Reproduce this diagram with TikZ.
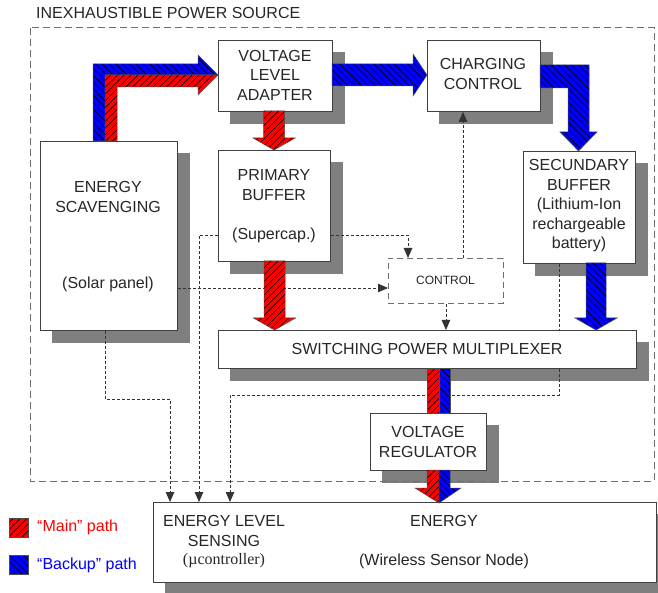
\documentclass[tikz,border=0pt]{standalone}
\usepackage{fontspec}
\setmainfont{Liberation Sans}
\newfontfamily\serifface{Liberation Serif}
\usetikzlibrary{calc,arrows.meta,patterns.meta}
\pgfdeclarelayer{shadow}\pgfdeclarelayer{lines}\pgfdeclarelayer{front}
\pgfsetlayers{shadow,lines,main,front}
\definecolor{shadowc}{HTML}{7F7F7F}
\definecolor{boxline}{HTML}{404040}
\definecolor{dashc}{HTML}{6E6E6E}
\definecolor{txtc}{HTML}{262626}
\tikzset{
  box/.style={draw=boxline, fill=white, line width=0.9pt, inner sep=0pt, anchor=north west},
  txt/.style={font=\fontsize{16}{19.5}\selectfont, align=center, inner sep=0pt, text=txtc},
  sig/.style={draw=black!80, line width=0.8pt, dash pattern=on 3pt off 2pt, -{Triangle[length=10pt,width=8.5pt]}},
  mainarrow/.style={preaction={fill=red}, pattern={Lines[angle=45,distance=4.8pt,line width=0.6pt]}, pattern color=black, draw=black!70, line width=0.5pt},
  backarrow/.style={preaction={fill=blue}, pattern={Lines[angle=-45,distance=4.8pt,line width=0.6pt]}, pattern color=black, draw=black!70, line width=0.5pt},
}
\newcommand\shbox[5]{%
  \node[box, minimum width={(#4-#2)*1pt}, minimum height={(#5-#3)*1pt}] (#1) at (#2,#3) {};
  \begin{pgfonlayer}{shadow}
    \fill[shadowc] ($(#1.north west)+(12,12)$) rectangle ($(#1.south east)+(12,12)$);
  \end{pgfonlayer}}
\newcommand\fatdown[7]{%
  \path[#1] (#2-#5,#3) -- (#2-#5,#4-#7) -- (#2-#6,#4-#7) -- (#2,#4) -- (#2+#6,#4-#7) -- (#2+#5,#4-#7) -- (#2+#5,#3) -- cycle;}
\begin{document}
\begin{tikzpicture}[x=1pt,y=-1pt]
\useasboundingbox (0,0) rectangle (658,593);

% title and outer dashed frame
\node[txt, anchor=west] (title) at (36,13) {INEXHAUSTIBLE POWER SOURCE};
\begin{pgfonlayer}{lines}
  \draw[dashc, line width=1pt, dash pattern=on 7pt off 4pt] (30,28) rectangle (654,481);
\end{pgfonlayer}

% boxes
\shbox{vla}{218}{40}{332}{111}
\shbox{cc}{427}{40}{540}{111}
\shbox{es}{40}{141}{177}{330}
\shbox{pb}{218}{150}{330}{261}
\shbox{sb}{523}{151}{635}{263}
\shbox{spm}{218}{330}{636}{368}
\shbox{vr}{370}{413}{486}{470}
\shbox{en}{153}{502}{656}{582}
\node[draw=dashc, line width=0.9pt, dash pattern=on 6pt off 4pt, fill=white, inner sep=0pt, anchor=north west,
      minimum width=115pt, minimum height=45pt] (ctl) at (388,258) {};

% texts
\node[txt] (tvla) at (275,75) {VOLTAGE\\LEVEL\\ADAPTER};
\node[txt] (tcc) at (483,74) {CHARGING\\CONTROL};
\node[txt] (tes) at (108,197) {ENERGY\\SCAVENGING};
\node[txt] (tes2) at (108,284) {(Solar panel)};
\node[txt] (tpb) at (274,185) {PRIMARY\\BUFFER};
\node[txt] (tpb2) at (274,235) {(Supercap.)};
\node[txt] (tsb) at (579,206) {SECUNDARY\\BUFFER\\(Lithium-Ion\\rechargeable\\battery)};
\node[txt, font=\fontsize{12}{14}\selectfont] (tctl) at (445.5,280) {CONTROL};
\node[txt] (tspm) at (427,349) {SWITCHING POWER MULTIPLEXER};
\node[txt] (tvr) at (428,442) {VOLTAGE\\REGULATOR};
\node[txt] (tels) at (224,531) {ENERGY LEVEL\\SENSING};
\node[txt, font=\serifface\fontsize{16}{19.5}\selectfont] (tmc) at (224,561) {(µcontroller)};
\node[txt] (ten) at (444,521) {ENERGY};
\node[txt] (twsn) at (444,561) {(Wireless Sensor Node)};

% legend
\path[mainarrow] (9,518) rectangle (28.5,537);
\path[backarrow] (9,555) rectangle (28.5,574);
\node[txt, anchor=west, text=red] (lmain) at (37,527.5) {“Main” path};
\node[txt, anchor=west, text=blue] (lback) at (37,565.5) {“Backup” path};

% signal (dotted) connectors
\begin{pgfonlayer}{lines}
  \draw[sig] ($(es.south west)+(65,0)$) -- ++(0,68) -| ($(en.north west)+(17,0)$);
  \draw[sig] ($(pb.north west)+(0,85)$) -| ($(en.north west)+(46,0)$);
  \draw[sig] ($(sb.south west)+(36,0)$) -- ++(0,131) -| ($(en.north west)+(77,0)$);
  \draw[sig] ($(pb.north east)+(0,85)$) -| ($(ctl.north west)+(20,0)$);
  \coordinate (sp) at ($(es.north east)+(0,147)$);
  \draw[sig] (sp) -- (ctl.west |- sp);
  \coordinate (c1) at ($(ctl.north west)+(75,0)$);
  \draw[sig] (c1) -- (c1 |- cc.south);
  \draw[sig] (ctl.south) -- (ctl.south |- spm.north);
\end{pgfonlayer}

% power (hatched) arrows
\begin{pgfonlayer}{front}
  % energy scavenging -> voltage level adapter
  \path[backarrow] (93,141) -- (93,64) -- (198,64) -- (198,55) -- (218,75) -- (105,75) -- (105,141) -- cycle;
  \path[mainarrow] (105,141) -- (105,75) -- (218,75) -- (198,95) -- (198,87) -- (117,87) -- (117,141) -- cycle;
  % voltage level adapter -> charging control
  \path[backarrow] (332,64) -- (413,64) -- (413,54) -- (427,75) -- (413,96) -- (413,86) -- (332,86) -- cycle;
  % charging control -> secundary buffer
  \path[backarrow] (540,65) -- (589,65) -- (589,132) -- (597,132) -- (578.5,151) -- (560,132) -- (568,132) -- (568,88) -- (540,88) -- cycle;
  % adapter -> primary buffer, buffers -> multiplexer
  \fatdown{mainarrow}{274}{111}{150}{10.5}{21}{12}
  \fatdown{mainarrow}{274.5}{261}{330}{10.5}{21}{12}
  \fatdown{backarrow}{596}{263}{330}{10}{21}{12}
  % multiplexer -> regulator
  \path[mainarrow] (427,368) rectangle (439,413);
  \path[backarrow] (439,368) rectangle (450,413);
  % regulator -> energy
  \path[mainarrow] (427,470) -- (439,470) -- (439,503) -- (415,488) -- (427,488) -- cycle;
  \path[backarrow] (439,470) -- (450,470) -- (450,488) -- (461,488) -- (439,503) -- cycle;
\end{pgfonlayer}
\end{tikzpicture}
\end{document}
